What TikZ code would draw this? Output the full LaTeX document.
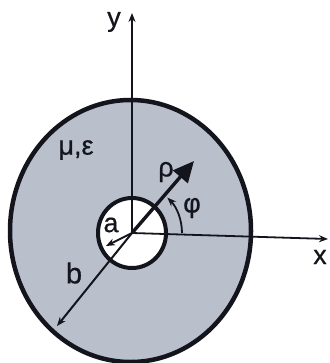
\documentclass[tikz,border=0pt]{standalone}
\usepackage{fontspec}
\setmainfont{Liberation Sans}
\newfontfamily\lblfont{Liberation Sans}[FakeBold=0.6]
\usetikzlibrary{arrows.meta}
\definecolor{fillgrey}{RGB}{185,192,204}
\definecolor{ink}{RGB}{20,20,28}
\tikzset{
  axis/.style={draw=ink, line width=1.8pt, -{Stealth[length=9pt,width=7pt]}},
  rimline/.style={draw=ink, line width=4.5pt},
  dimarrow/.style={draw=ink, line width=2pt, -{Stealth[length=9pt,width=7pt]}},
  rhoarrow/.style={draw=ink, line width=3.4pt, -{Triangle[length=21pt,width=19pt]}},
  lbl/.style={text=ink, font=\lblfont\fontsize{27}{30}\selectfont, inner sep=0pt}
}
\begin{document}
\begin{tikzpicture}[x=1pt,y=-1pt]
\useasboundingbox[fill=white] (0,0) rectangle (329,363);
\coordinate (O) at (132,233);
\coordinate (C) at (130.5,231);
% outer disc
\path[fill=fillgrey] (C) ellipse[x radius=120.5, y radius=131];
% inner hole
\path[fill=white] (O) ellipse[x radius=34, y radius=35];
\draw[rimline, line width=4pt] (O) ellipse[x radius=34, y radius=35];
% axes
\coordinate (ytip) at (132,13);
\coordinate (xtip) at (328,239);
\draw[axis] (O) -- (ytip);
\draw[axis] (O) -- (xtip);
% outer rim
\draw[rimline] (C) ellipse[x radius=120.5, y radius=131];
% rho arrow
\coordinate (rhotip) at (194,161);
\draw[rhoarrow] (O) -- (rhotip);
% phi arc
\coordinate (phistart) at (182,233);
\draw[dimarrow, line width=1.8pt] (phistart) arc[start angle=0, end angle=-45, radius=50];
% a arrow
\coordinate (atip) at (106,246);
\draw[dimarrow] (O) -- (atip);
% b arrow
\coordinate (btip) at (57,326);
\draw[dimarrow] (O) -- (btip);
% labels
\node[lbl] (ylab) at (114,22) {y};
\node[lbl] (xlab) at (320,257) {x};
\node[lbl] (mulab) at (76,150) {μ,ε};
\node[lbl] (rholab) at (166,172) {ρ};
\node[lbl] (philab) at (192,208) {φ};
\node[lbl] (alab) at (111,225) {a};
\node[lbl, font=\lblfont\fontsize{29}{32}\selectfont] (blab) at (74,273) {b};
\end{tikzpicture}
\end{document}
